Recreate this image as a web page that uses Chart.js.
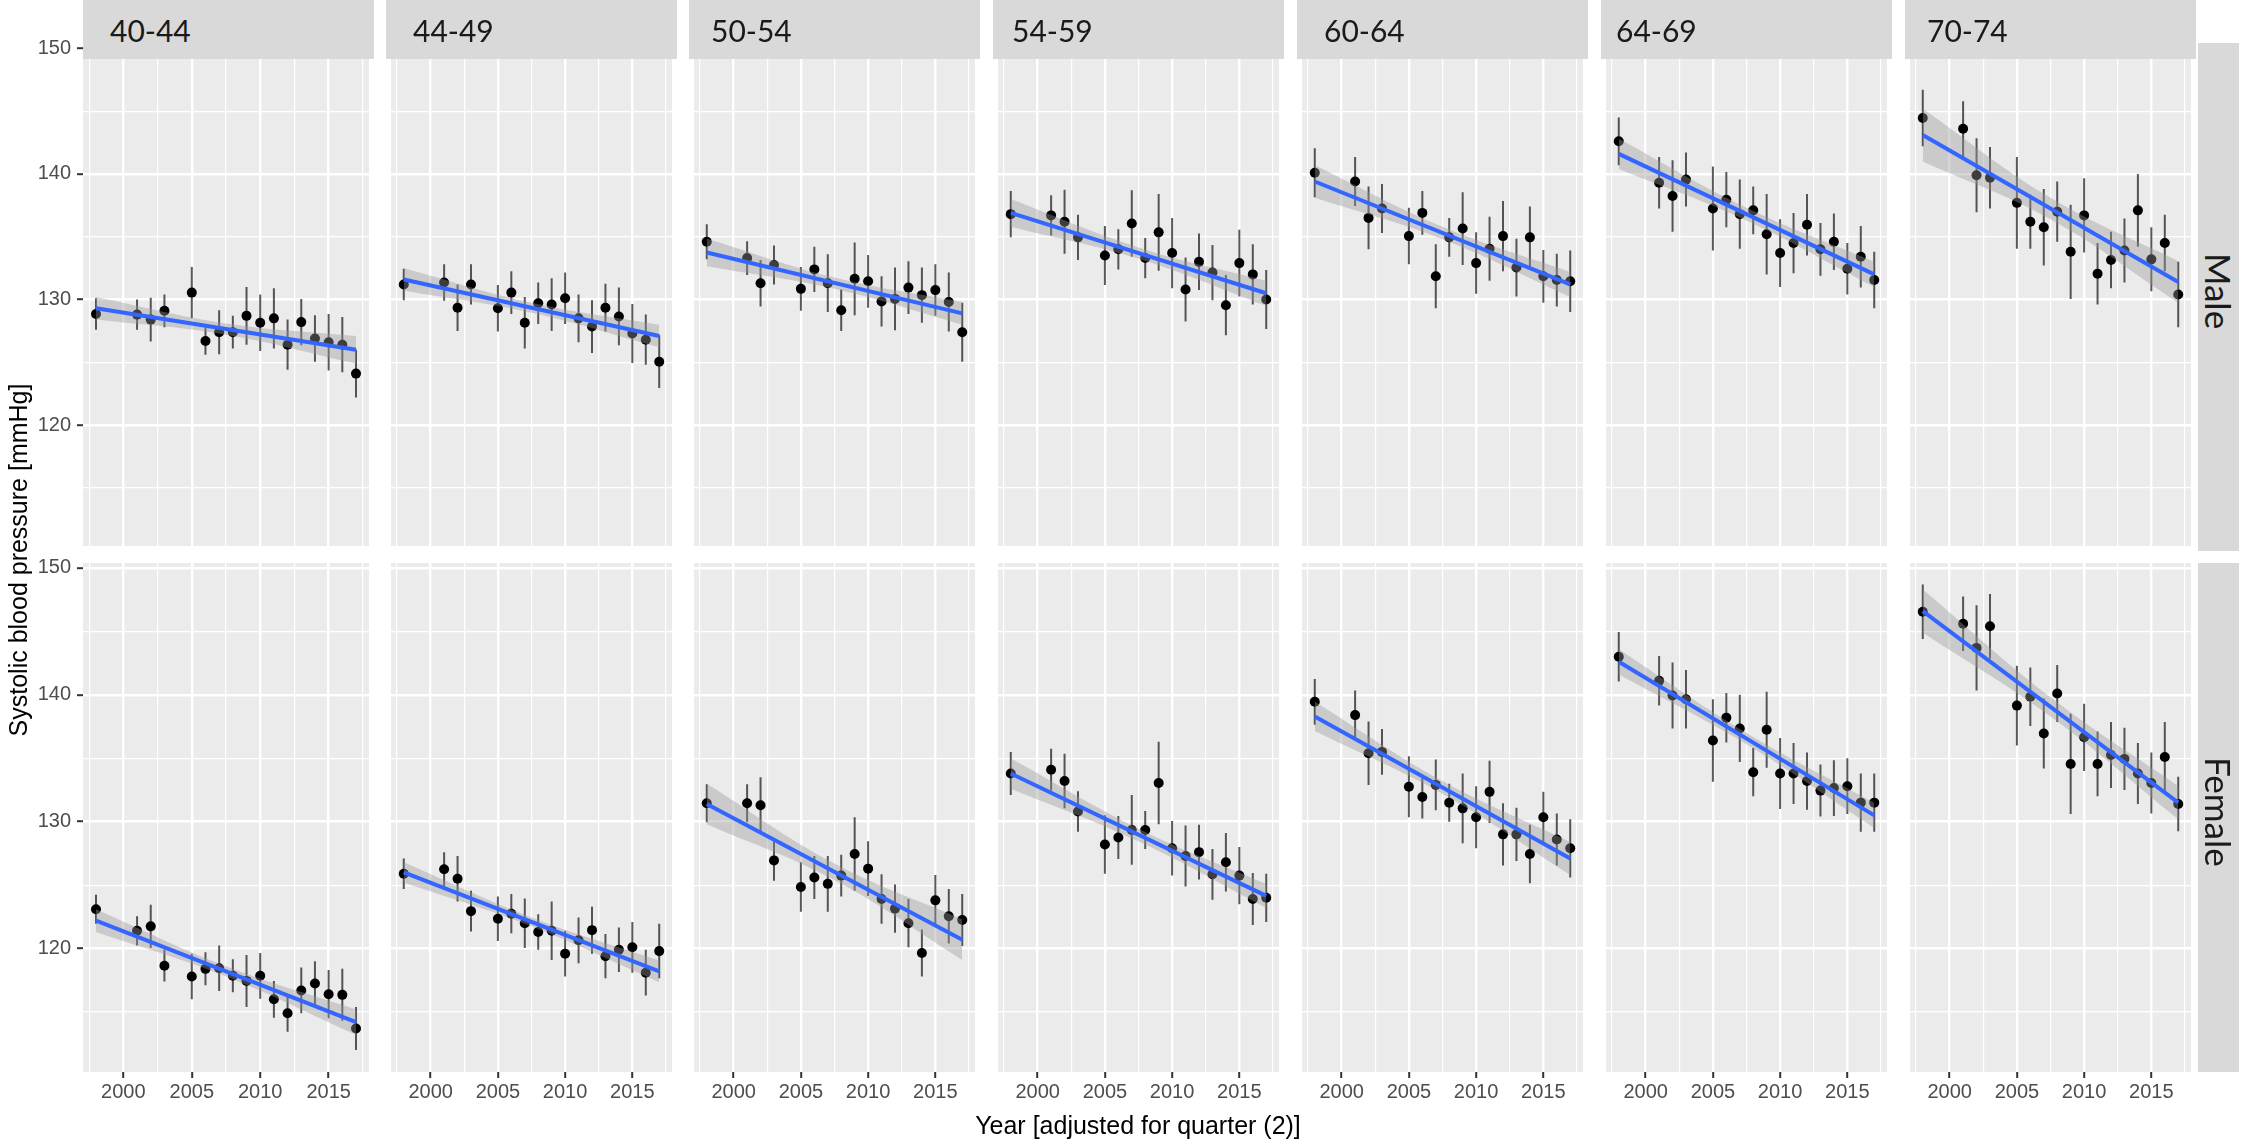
<!DOCTYPE html>
<html>
<head>
<meta charset="utf-8">
<script src="https://cdn.jsdelivr.net/npm/chart.js@4.4.1/dist/chart.umd.min.js"></script>
<style>
  body { margin: 0; width: 2247px; height: 1140px; background: #fff; position: relative; overflow: hidden; font-family: "Liberation Sans", Arial, sans-serif; }
  canvas { position: absolute; }
  .strip { position: absolute; background: #d9d9d9; z-index: 2; color: #1a1a1a; font-family: Lato, "Noto Sans", sans-serif; display: flex; align-items: center; }
  .colstrip { top: 0; height: 59px; width: 291px; font-size: 30px; }
  .rowstrip { left: 2198px; width: 41px; writing-mode: vertical-rl; justify-content: center; font-size: 35px; }
  .title { position: absolute; font-size: 25px; color: #000; text-align: center; white-space: nowrap; }
</style>
</head>
<body>
<script>
// observation years (same for every panel)
var years = [1998, 2001, 2002, 2003, 2005, 2006, 2007, 2008, 2009, 2010, 2011, 2012, 2013, 2014, 2015, 2016, 2017];
var fitYears = [1998, 2017];
var bandYears = [1998, 2007.5, 2017];

var ageGroups = ['40-44', '44-49', '50-54', '54-59', '60-64', '64-69', '70-74'];
var sexes = ['Male', 'Female'];

// Male: mean and half width of the error bar
var male4044 = [128.85, 128.8, 128.4, 129.1, 130.55, 126.7, 127.4, 127.4, 128.7, 128.15, 128.5, 126.4, 128.2, 126.9, 126.6, 126.4, 124.1];
var male4044Err = [1.25, 1.2, 1.75, 1.3, 2.05, 1.1, 1.75, 1.3, 2.3, 2.25, 2.4, 2.0, 1.85, 1.85, 2.25, 2.2, 1.9];
var male4449 = [131.2, 131.35, 129.35, 131.2, 129.3, 130.55, 128.15, 129.7, 129.6, 130.1, 128.5, 127.85, 129.35, 128.65, 127.3, 126.8, 125.05];
var male4449Err = [1.25, 1.45, 1.85, 1.6, 1.85, 1.7, 2.05, 1.65, 2.1, 2.05, 1.9, 2.1, 1.9, 2.3, 2.35, 2.0, 2.1];
var male5054 = [134.6, 133.3, 131.3, 132.75, 130.85, 132.4, 131.3, 129.15, 131.65, 131.45, 129.85, 130.05, 130.95, 130.35, 130.75, 129.8, 127.4];
var male5054Err = [1.4, 1.35, 1.85, 1.55, 1.75, 1.8, 2.3, 1.65, 2.9, 2.1, 2.0, 2.5, 2.1, 2.2, 2.05, 2.35, 2.35];
var male5459 = [136.8, 136.7, 136.2, 134.95, 133.5, 134.0, 136.05, 133.3, 135.35, 133.7, 130.8, 133.0, 132.15, 129.55, 132.9, 132.0, 130.0];
var male5459Err = [1.85, 1.6, 2.55, 1.8, 2.35, 1.6, 2.65, 1.6, 3.05, 2.8, 2.55, 2.25, 2.2, 2.4, 2.65, 2.4, 2.35];
var male6064 = [140.1, 139.4, 136.5, 137.25, 135.05, 136.9, 131.85, 134.95, 135.65, 132.9, 134.05, 135.05, 132.55, 134.95, 131.85, 131.55, 131.45];
var male6064Err = [1.95, 1.95, 2.5, 1.95, 2.25, 1.75, 2.55, 1.55, 2.9, 2.45, 2.55, 2.8, 2.3, 2.45, 2.1, 2.1, 2.45];
var male6469 = [142.6, 139.3, 138.25, 139.55, 137.25, 137.95, 136.8, 137.1, 135.2, 133.7, 134.5, 135.95, 134.0, 134.6, 132.45, 133.4, 131.55];
var male6469Err = [1.9, 2.05, 2.85, 2.15, 3.35, 2.2, 2.75, 1.9, 3.2, 2.7, 2.4, 2.45, 2.1, 2.25, 2.05, 2.45, 2.25];
var male7074 = [144.45, 143.6, 139.9, 139.7, 137.7, 136.2, 135.75, 137.0, 133.8, 136.7, 132.05, 133.15, 133.9, 137.1, 133.2, 134.5, 130.4];
var male7074Err = [2.25, 2.2, 2.95, 2.45, 3.65, 2.15, 3.05, 2.4, 3.75, 2.95, 2.45, 2.25, 2.55, 2.9, 2.55, 2.25, 2.6];

// Female
var female4044 = [123.1, 121.4, 121.75, 118.65, 117.8, 118.4, 118.45, 117.85, 117.45, 117.85, 116.0, 114.9, 116.7, 117.25, 116.4, 116.35, 113.7];
var female4044Err = [1.15, 1.15, 1.7, 1.25, 1.8, 1.3, 1.8, 1.3, 2.05, 1.8, 1.45, 1.45, 1.8, 1.75, 1.9, 2.05, 1.7];
var female4449 = [125.9, 126.25, 125.5, 122.95, 122.35, 122.75, 122.0, 121.3, 121.4, 119.6, 120.65, 121.45, 119.4, 119.9, 120.1, 118.1, 119.8];
var female4449Err = [1.2, 1.35, 1.8, 1.6, 1.75, 1.55, 1.95, 1.4, 2.3, 1.8, 1.8, 1.85, 1.75, 1.75, 2.0, 1.8, 2.15];
var female5054 = [131.45, 131.45, 131.3, 126.95, 124.85, 125.6, 125.1, 125.75, 127.45, 126.3, 123.9, 123.15, 122.0, 119.65, 123.8, 122.55, 122.25];
var female5054Err = [1.5, 1.5, 2.2, 1.6, 1.95, 1.7, 2.2, 1.65, 2.9, 2.15, 1.95, 1.9, 1.9, 1.85, 2.0, 2.15, 2.05];
var female5459 = [133.8, 134.1, 133.2, 130.8, 128.2, 128.75, 129.35, 129.35, 133.05, 127.9, 127.3, 127.6, 125.85, 126.8, 125.75, 123.9, 124.0];
var female5459Err = [1.7, 1.65, 2.15, 1.6, 2.3, 1.7, 2.75, 1.5, 3.25, 2.15, 2.4, 2.15, 2.0, 2.3, 2.25, 2.05, 1.9];
var female6064 = [139.45, 138.4, 135.4, 135.5, 132.75, 131.95, 132.9, 131.5, 131.05, 130.35, 132.35, 129.0, 129.0, 127.45, 130.35, 128.6, 127.9];
var female6064Err = [1.8, 1.95, 2.5, 1.8, 2.4, 1.7, 2.0, 1.5, 2.75, 2.45, 2.45, 2.45, 2.1, 2.3, 2.0, 2.05, 2.3];
var female6469 = [143.0, 141.1, 139.95, 139.65, 136.4, 138.2, 137.35, 133.9, 137.25, 133.8, 133.8, 133.2, 132.45, 132.65, 132.8, 131.5, 131.5];
var female6469Err = [1.95, 1.95, 2.6, 2.3, 3.25, 1.95, 2.65, 1.9, 3.0, 2.8, 2.4, 2.25, 2.05, 2.2, 2.2, 2.3, 2.3];
var female7074 = [146.55, 145.6, 143.7, 145.4, 139.15, 139.85, 136.95, 140.1, 134.55, 136.65, 134.55, 135.25, 134.95, 133.8, 133.05, 135.1, 131.4];
var female7074Err = [2.15, 2.15, 3.35, 2.55, 3.15, 2.3, 2.75, 2.25, 3.95, 2.65, 2.55, 2.6, 2.45, 2.4, 2.4, 2.75, 2.15];

// linear fit (at fitYears) and its confidence band (at bandYears)
var male4044Fit = [129.3, 126.0], male4044Hi = [130.2, 128.1, 127.1], male4044Lo = [128.4, 127.2, 124.9];
var male4449Fit = [131.6, 127.1], male4449Hi = [132.5, 129.75, 128.0], male4449Lo = [130.7, 128.95, 126.2];
var male5054Fit = [133.75, 128.9], male5054Hi = [134.85, 131.75, 129.8], male5054Lo = [132.65, 130.85, 128.0];
var male5459Fit = [136.9, 130.5], male5459Hi = [138.0, 134.15, 131.5], male5459Lo = [135.8, 133.25, 129.5];
var male6064Fit = [139.4, 131.2], male6064Hi = [140.7, 135.8, 132.2], male6064Lo = [138.1, 134.8, 130.2];
var male6469Fit = [141.6, 132.0], male6469Hi = [142.8, 137.3, 133.0], male6469Lo = [140.4, 136.3, 131.0];
var male7074Fit = [143.1, 131.4], male7074Hi = [145.2, 138.1, 133.05], male7074Lo = [141.0, 136.4, 129.75];
var female4044Fit = [122.2, 114.2], female4044Hi = [123.1, 118.6, 115.2], female4044Lo = [121.3, 117.8, 113.2];
var female4449Fit = [126.0, 118.2], female4449Hi = [126.8, 122.45, 119.05], female4449Lo = [125.2, 121.75, 117.35];
var female5054Fit = [131.4, 120.7], female5054Hi = [133.0, 126.7, 122.3], female5054Lo = [129.8, 125.4, 119.1];
var female5459Fit = [133.8, 124.15], female5459Hi = [135.0, 129.45, 125.1], female5459Lo = [132.6, 128.45, 123.2];
var female6064Fit = [138.3, 127.1], female6064Hi = [139.45, 133.2, 128.4], female6064Lo = [137.15, 132.2, 125.8];
var female6469Fit = [142.6, 130.5], female6469Hi = [143.6, 137.0, 131.5], female6469Lo = [141.6, 136.1, 129.5];
var female7074Fit = [146.6, 131.5], female7074Hi = [148.3, 139.8, 132.8], female7074Lo = [144.9, 138.3, 130.2];

var panels = [
  [male4044, male4044Err, male4044Fit, male4044Hi, male4044Lo],
  [male4449, male4449Err, male4449Fit, male4449Hi, male4449Lo],
  [male5054, male5054Err, male5054Fit, male5054Hi, male5054Lo],
  [male5459, male5459Err, male5459Fit, male5459Hi, male5459Lo],
  [male6064, male6064Err, male6064Fit, male6064Hi, male6064Lo],
  [male6469, male6469Err, male6469Fit, male6469Hi, male6469Lo],
  [male7074, male7074Err, male7074Fit, male7074Hi, male7074Lo],
  [female4044, female4044Err, female4044Fit, female4044Hi, female4044Lo],
  [female4449, female4449Err, female4449Fit, female4449Hi, female4449Lo],
  [female5054, female5054Err, female5054Fit, female5054Hi, female5054Lo],
  [female5459, female5459Err, female5459Fit, female5459Hi, female5459Lo],
  [female6064, female6064Err, female6064Fit, female6064Hi, female6064Lo],
  [female6469, female6469Err, female6469Fit, female6469Hi, female6469Lo],
  [female7074, female7074Err, female7074Fit, female7074Hi, female7074Lo]
];

// layout
var panelLeft = [83, 386, 689, 993, 1297, 1601, 1905];
var panelW = 291;
var areaTop = [43, 563];
var areaH = [508, 509];
var yMin = [110.37, 110.27], yMax = [150.43, 150.39];
var labelOffset = [27, 27, 22, 19, 27, 15, 22];

Chart.defaults.font.family = '"Liberation Sans", Arial, sans-serif';

var panelBg = {
  id: 'panelBg',
  beforeDraw: function (chart) {
    var a = chart.chartArea, ctx = chart.ctx;
    ctx.save();
    ctx.fillStyle = '#ebebeb';
    ctx.fillRect(a.left, a.top, a.right - a.left, a.bottom - a.top);
    ctx.restore();
  }
};

function isMajor(c, step) {
  return c.tick && Math.abs(c.tick.value % step) < 0.001;
}

function makePanel(row, col, p) {
  var mean = p[0], err = p[1], fit = p[2], hi = p[3], lo = p[4];
  var yAxisW = col === 0 ? 83 : 0;
  var xAxisH = row === 1 ? 40 : 0;
  var padTop = 20;
  var w = yAxisW + panelW, h = padTop + areaH[row] + xAxisH;

  var canvas = document.createElement('canvas');
  canvas.width = w;
  canvas.height = h;
  canvas.style.width = w + 'px';
  canvas.style.height = h + 'px';
  canvas.style.left = (panelLeft[col] - yAxisW) + 'px';
  canvas.style.top = (areaTop[row] - padTop) + 'px';
  document.body.appendChild(canvas);

  var bars = [];
  years.forEach(function (yr, i) {
    bars.push({ x: yr, y: mean[i] - err[i] }, { x: yr, y: mean[i] + err[i] }, { x: yr, y: null });
  });

  var tickFont = { family: '"Liberation Sans", Arial, sans-serif', size: 20 };

  new Chart(canvas.getContext('2d'), {
    type: 'scatter',
    data: {
      datasets: [
        { type: 'line', data: fitYears.map(function (x, i) { return { x: x, y: fit[i] }; }),
          borderColor: '#3366ff', borderWidth: 4, pointRadius: 0, order: 0 },
        { type: 'line', data: bandYears.map(function (x, i) { return { x: x, y: hi[i] }; }),
          borderColor: 'rgba(0,0,0,0)', borderWidth: 0, pointRadius: 0, tension: 0.4,
          fill: '+1', backgroundColor: 'rgba(153,153,153,0.4)', order: 1 },
        { type: 'line', data: bandYears.map(function (x, i) { return { x: x, y: lo[i] }; }),
          borderColor: 'rgba(0,0,0,0)', borderWidth: 0, pointRadius: 0, tension: 0.4, fill: false, order: 2 },
        { type: 'scatter', data: years.map(function (x, i) { return { x: x, y: mean[i] }; }),
          pointRadius: 5, backgroundColor: '#000', borderWidth: 0, order: 3 },
        { type: 'line', data: bars, borderColor: 'rgba(25,25,25,0.72)', borderWidth: 2,
          pointRadius: 0, spanGaps: false, borderCapStyle: 'butt', order: 4 }
      ]
    },
    options: {
      responsive: false,
      animation: false,
      devicePixelRatio: 1,
      layout: { padding: { top: padTop, left: 0, right: 0, bottom: 0 } },
      plugins: { legend: { display: false }, tooltip: { enabled: false } },
      scales: {
        x: {
          type: 'linear', min: 1997.05, max: 2017.95,
          afterFit: function (s) { s.height = xAxisH; s.paddingLeft = 0; s.paddingRight = 0; },
          border: { display: false },
          grid: {
            color: '#ffffff',
            lineWidth: function (c) { return isMajor(c, 5) ? 2.4 : 1.2; },
            drawTicks: row === 1, tickLength: 6, tickWidth: 2,
            tickColor: function (c) { return isMajor(c, 5) ? '#333333' : 'rgba(0,0,0,0)'; }
          },
          ticks: {
            display: row === 1, stepSize: 2.5, includeBounds: false, autoSkip: false, maxRotation: 0,
            padding: 2, color: '#4d4d4d', font: tickFont,
            callback: function (v) { return Math.abs(v % 5) < 0.001 ? String(v) : ''; }
          }
        },
        y: {
          min: yMin[row], max: yMax[row],
          afterFit: function (s) { s.width = yAxisW; s.paddingTop = 0; s.paddingBottom = 0; },
          border: { display: false },
          grid: {
            color: '#ffffff',
            lineWidth: function (c) { return isMajor(c, 10) ? 2.4 : 1.2; },
            drawTicks: col === 0, tickLength: 6, tickWidth: 2,
            tickColor: function (c) { return isMajor(c, 10) ? '#333333' : 'rgba(0,0,0,0)'; }
          },
          ticks: {
            display: col === 0, stepSize: 5, includeBounds: false, autoSkip: false,
            padding: 6, color: '#4d4d4d', font: tickFont,
            callback: function (v) { return Math.abs(v % 10) < 0.001 ? String(v) : ''; }
          }
        }
      }
    },
    plugins: [panelBg]
  });
}

for (var r = 0; r < 2; r++) {
  for (var c = 0; c < 7; c++) {
    makePanel(r, c, panels[r * 7 + c]);
  }
}

// facet strips
ageGroups.forEach(function (g, c) {
  var d = document.createElement('div');
  d.className = 'strip colstrip';
  d.style.left = panelLeft[c] + 'px';
  d.style.paddingLeft = labelOffset[c] + 'px';
  d.style.width = (panelW - labelOffset[c]) + 'px';
  d.textContent = g;
  document.body.appendChild(d);
});
sexes.forEach(function (s, r) {
  var d = document.createElement('div');
  d.className = 'strip rowstrip';
  d.style.top = areaTop[r] + 'px';
  d.style.height = (areaH[r] - 12) + 'px';
  d.style.paddingBottom = '12px';
  d.textContent = s;
  document.body.appendChild(d);
});

// axis titles
var xt = document.createElement('div');
xt.className = 'title';
xt.style.left = '838px'; xt.style.width = '600px'; xt.style.top = '1110px'; xt.style.lineHeight = '30px';
xt.textContent = 'Year [adjusted for quarter (2)]';
document.body.appendChild(xt);

var yt = document.createElement('div');
yt.className = 'title';
yt.style.left = '-282px'; yt.style.width = '600px'; yt.style.top = '545px'; yt.style.lineHeight = '30px';
yt.style.transform = 'rotate(-90deg)';
yt.textContent = 'Systolic blood pressure [mmHg]';
document.body.appendChild(yt);
</script>
</body>
</html>
